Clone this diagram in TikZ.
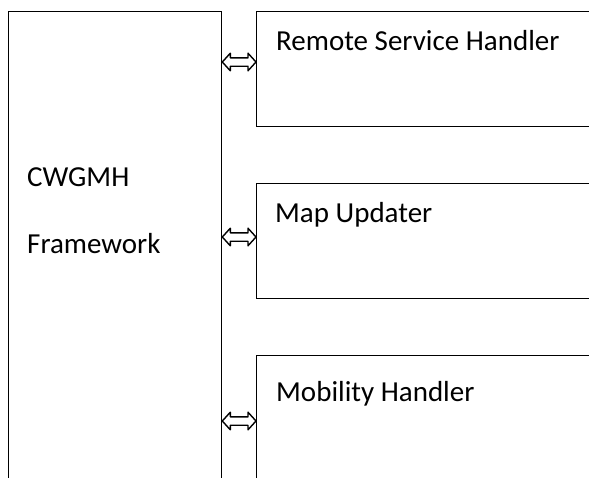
\documentclass[tikz,border=0pt]{standalone}
\usepackage{fontspec}
\setmainfont{Carlito}
\usetikzlibrary{positioning, calc, arrows.meta}

\begin{document}
\begin{tikzpicture}[
    x=1pt, y=-1pt,
    box/.style  = {rectangle, draw=black, line width=1.3pt,
                   anchor=north west, inner sep=0pt},
    txt/.style  = {anchor=base west, inner sep=0pt,
                   font=\fontsize{29}{33}\selectfont},
    link/.style = {draw=black, line width=1.4pt, line join=round,
                   to path={
                     -- ($(\tikztostart)+(8,-8.8)$) -- ($(\tikztostart)+(8,-4.2)$)
                     -- ($(\tikztotarget)+(-8,-4.2)$) -- ($(\tikztotarget)+(-8,-8.8)$)
                     -- (\tikztotarget)
                     -- ($(\tikztotarget)+(-8,8.8)$) -- ($(\tikztotarget)+(-8,4.2)$)
                     -- ($(\tikztostart)+(8,4.2)$) -- ($(\tikztostart)+(8,8.8)$)
                     -- cycle}},
]

%% ---- page ----
\clip (0,0) rectangle (589,477);
\fill[white] (0,0) rectangle (589,477);

%% ---- boxes ----
\node[box, minimum width=213pt, minimum height=500pt] (framework) at (8,11) {};
\node[box, minimum width=360pt, minimum height=115pt] (remote)    at (256,11) {};
\node[box, minimum width=360pt, minimum height=115pt] (updater)   at (256,183) {};
\node[box, minimum width=360pt, minimum height=150pt] (mobility)  at (256,355) {};

%% ---- texts ----
\node[txt] (cwgmh) at ($(framework.north west)+(19,175)$) {CWGMH};
\node[txt] (fwtxt) at ($(cwgmh.base west)+(0,67)$) {Framework};
\node[txt] (remotetxt)   at ($(remote.north west)+(20,39)$)   {Remote Service Handler};
\node[txt] (updatertxt)  at ($(updater.north west)+(19,39)$)  {Map Updater};
\node[txt] (mobilitytxt) at ($(mobility.north west)+(20,46)$) {Mobility Handler};

%% ---- links ----
\coordinate (l1) at ($(remote.north west)+(0,51)$);
\coordinate (l2) at ($(updater.north west)+(0,54)$);
\coordinate (l3) at ($(mobility.north west)+(0,66)$);
\draw[link] (framework.east |- l1) to (l1);
\draw[link] (framework.east |- l2) to (l2);
\draw[link] (framework.east |- l3) to (l3);

\end{tikzpicture}
\end{document}
